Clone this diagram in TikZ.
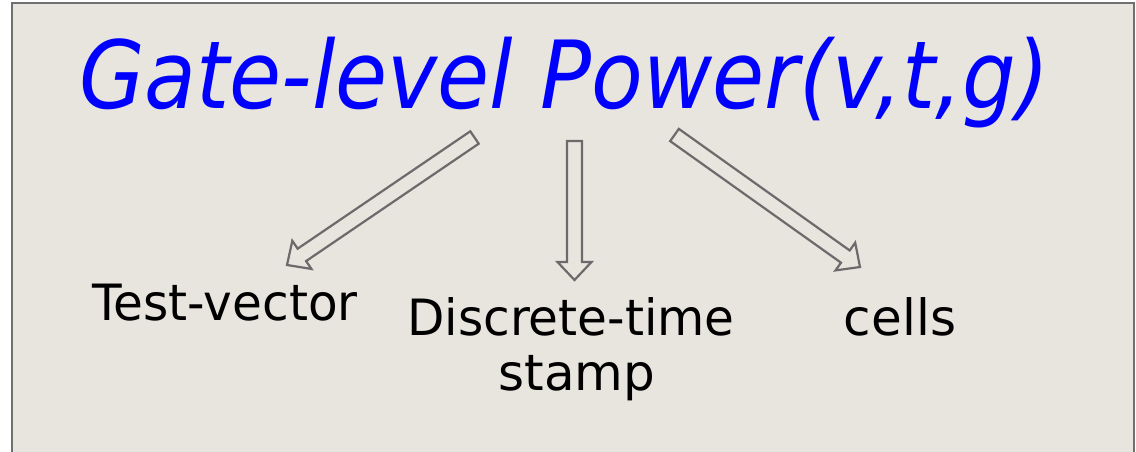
\documentclass[tikz,border=0pt]{standalone}
\usepackage{fontspec}
\setmainfont{DejaVu Sans}
\usetikzlibrary{calc}
\definecolor{panel}{HTML}{E8E4DE}
\definecolor{frame}{HTML}{707070}
\definecolor{arrowgray}{HTML}{6B6B6B}
\definecolor{titleblue}{HTML}{0000FF}
\tikzset{
  barrow/.style={draw=arrowgray, line width=2.2pt, fill=panel, line join=miter},
  title/.style={font=\fontsize{94}{100}\selectfont\itshape, text=titleblue, inner sep=0pt},
  lbl/.style={font=\fontsize{50}{60}\selectfont, text=black, inner sep=0pt},
}
\newcommand{\blockarrow}[3]{% #1 tail, #2 tip, #3 name
  \coordinate (#3h) at ($(#2)!18pt!(#1)$);
  \draw[barrow] ($(#1)!7.5pt!-90:(#2)$) -- ($(#3h)!7.5pt!-90:(#2)$) -- ($(#3h)!17pt!-90:(#2)$)
     -- (#2) -- ($(#3h)!17pt!90:(#2)$) -- ($(#3h)!7.5pt!90:(#2)$) -- ($(#1)!7.5pt!90:(#2)$) -- cycle;
}
\begin{document}
\begin{tikzpicture}[x=1pt,y=-1pt]
\useasboundingbox (0,0) rectangle (1136,452);
\fill[white] (0,0) rectangle (1136,452);
\filldraw[fill=panel, draw=frame, line width=2pt] (12,460) -- (12,3) -- (1134,3) -- (1134,460);
\node[title, anchor=base] (t) at (564,109) {\scalebox{0.9}[1]{Gate-level Power(v,t,g)}};
\node[lbl, anchor=base] (tv) at (225,320) {\scalebox{0.97}[1]{Test-vector}};
\node[lbl, anchor=base] (dt) at (571,335) {\scalebox{0.97}[1]{Discrete-time}};
\node[lbl, anchor=base] (st) at (577,390) {stamp};
\node[lbl, anchor=base] (ce) at (900,335) {cells};
\coordinate (a1t) at (474.5,137.5); \coordinate (a1h) at (287,265);
\coordinate (a2t) at (574.5,141);   \coordinate (a2h) at (574.5,280);
\coordinate (a3t) at (674.5,135);   \coordinate (a3h) at (860,267);
\blockarrow{a1t}{a1h}{l}
\blockarrow{a2t}{a2h}{m}
\blockarrow{a3t}{a3h}{r}
\end{tikzpicture}
\end{document}
